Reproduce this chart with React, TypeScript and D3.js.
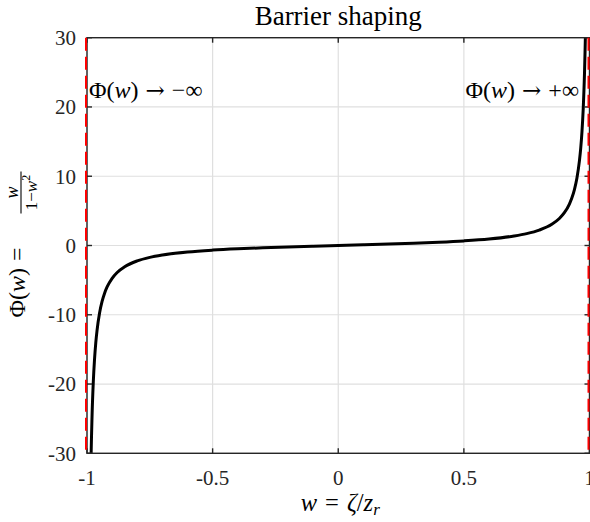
import React from "react";
import * as d3 from "d3";

// Sampled barrier shaping function Φ(w) = w / (1 − w²)
const wValues = [
  -0.99, -0.985, -0.98, -0.975, -0.97, -0.965, -0.96, -0.95, -0.94, -0.93, -0.92, -0.9, -0.88,
  -0.85, -0.8, -0.75, -0.7, -0.6, -0.5, -0.4, -0.3, -0.2, -0.1, 0,
  0.1, 0.2, 0.3, 0.4, 0.5, 0.6, 0.7, 0.75, 0.8, 0.85, 0.88, 0.9, 0.92, 0.93, 0.94, 0.95,
  0.96, 0.965, 0.97, 0.975, 0.98, 0.985, 0.99,
];
const phiValues = [
  -49.749, -33.081, -24.747, -19.747, -16.413, -14.031, -12.245, -9.744, -8.076, -6.884, -5.99, -4.737, -3.901,
  -3.063, -2.222, -1.714, -1.373, -0.9375, -0.6667, -0.4762, -0.3297, -0.2083, -0.101, 0,
  0.101, 0.2083, 0.3297, 0.4762, 0.6667, 0.9375, 1.373, 1.714, 2.222, 3.063, 3.901, 4.737, 5.99, 6.884, 8.076, 9.744,
  12.245, 14.031, 16.413, 19.747, 24.747, 33.081, 49.749,
];

const xTicks = [-1, -0.5, 0, 0.5, 1];
const xTickLabels = ["-1", "-0.5", "0", "0.5", "1"];
const yTicks = [-30, -20, -10, 0, 10, 20, 30];
const yTickLabels = ["-30", "-20", "-10", "0", "10", "20", "30"];
const asymptotes = [-1, 1];

const W = 590;
const H = 522;
const left = 87;
const right = 589.5;
const top = 37.7;
const bottom = 453.3;

const FONT = "'Liberation Serif', 'Times New Roman', serif";
const ARROW_FONT = "'DejaVu Serif', serif";
const AXIS = "#262626";
const GRID = "#dfdfdf";

export default function App() {
  const x = d3.scaleLinear().domain([-1, 1]).range([left, right]);
  const y = d3.scaleLinear().domain([-30, 30]).range([bottom, top]);
  const pts: [number, number][] = wValues.map((w, i) => [w, phiValues[i]]);
  const line = d3
    .line<[number, number]>()
    .x((d) => x(d[0]))
    .y((d) => y(d[1]))
    .curve(d3.curveMonotoneX);
  const tickLen = 5;

  return (
    <svg
      width={W}
      height={H}
      style={{ position: "fixed", left: 0, top: 0, background: "#fff" }}
      fontFamily={FONT}
    >
      <defs>
        <clipPath id="plotClip">
          <rect x={left} y={top} width={right - left} height={bottom - top} />
        </clipPath>
      </defs>
      <rect x={0} y={0} width={W} height={H} fill="#fff" />

      {/* grid */}
      {xTicks.map((t) => (
        <line key={"gx" + t} x1={x(t)} x2={x(t)} y1={top} y2={bottom} stroke={GRID} strokeWidth={1.2} />
      ))}
      {yTicks.map((t) => (
        <line key={"gy" + t} x1={left} x2={right} y1={y(t)} y2={y(t)} stroke={GRID} strokeWidth={1.2} />
      ))}

      {/* curve */}
      <path
        d={line(pts) || ""}
        fill="none"
        stroke="#000"
        strokeWidth={3}
        clipPath="url(#plotClip)"
      />

      {/* axes box and ticks */}
      <rect x={left} y={top} width={right - left} height={bottom - top} fill="none" stroke={AXIS} strokeWidth={1.4} />
      {xTicks.map((t) => (
        <g key={"tx" + t}>
          <line x1={x(t)} x2={x(t)} y1={bottom} y2={bottom - tickLen} stroke={AXIS} strokeWidth={1.4} />
          <line x1={x(t)} x2={x(t)} y1={top} y2={top + tickLen} stroke={AXIS} strokeWidth={1.4} />
        </g>
      ))}
      {yTicks.map((t) => (
        <g key={"ty" + t}>
          <line x1={left} x2={left + tickLen} y1={y(t)} y2={y(t)} stroke={AXIS} strokeWidth={1.4} />
          <line x1={right} x2={right - tickLen} y1={y(t)} y2={y(t)} stroke={AXIS} strokeWidth={1.4} />
        </g>
      ))}

      {/* asymptotes */}
      {asymptotes.map((a) => (
        <line
          key={"as" + a}
          x1={x(a) - 1}
          x2={x(a) - 1}
          y1={top}
          y2={bottom}
          stroke="#ff0000"
          strokeWidth={2}
          strokeDasharray="13,6"
        />
      ))}

      {/* tick labels */}
      {xTicks.map((t, i) => (
        <text key={"lx" + t} x={x(t)} y={485} textAnchor="middle" fontSize={21} fill={AXIS}>
          {xTickLabels[i]}
        </text>
      ))}
      {yTicks.map((t, i) => (
        <text key={"ly" + t} x={76} y={y(t)} dy="0.35em" textAnchor="end" fontSize={21} fill={AXIS}>
          {yTickLabels[i]}
        </text>
      ))}

      {/* title */}
      <text x={x(0)} y={25} textAnchor="middle" fontSize={27} fill="#000">
        Barrier shaping
      </text>

      {/* annotations */}
      <text x={89} y={98} fontSize={24} fill="#000">
        Φ(<tspan fontStyle="italic">w</tspan>)
        <tspan dx={7} fontFamily={ARROW_FONT} fontSize={23}>→</tspan>
        <tspan dx={7}>−∞</tspan>
      </text>
      <text x={579} y={98} fontSize={24} fill="#000" textAnchor="end">
        Φ(<tspan fontStyle="italic">w</tspan>)
        <tspan dx={7} fontFamily={ARROW_FONT} fontSize={23}>→</tspan>
        <tspan dx={7}>+∞</tspan>
      </text>

      {/* x label */}
      <text x={x(0) + 2} y={511} fontSize={24.5} textAnchor="middle" fill="#000">
        <tspan fontStyle="italic">w</tspan>
        <tspan dx={8}>=</tspan>
        <tspan dx={8} fontStyle="italic">ζ</tspan>/<tspan fontStyle="italic">z</tspan>
        <tspan fontStyle="italic" fontSize={17} dy={4}>r</tspan>
      </text>

      {/* y label */}
      <g transform="translate(25,244.5) rotate(-90)" fill="#000">
        <text x={-73} y={0} fontSize={24}>
          Φ(<tspan fontStyle="italic">w</tspan>)<tspan dx={7}>=</tspan>
        </text>
        <text x={52} y={-7} fontSize={18} textAnchor="middle" fontStyle="italic">
          w
        </text>
        <line x1={31} x2={73} y1={-4} y2={-4} stroke="#000" strokeWidth={1.1} />
        <text x={52} y={12} fontSize={17} textAnchor="middle">
          1−<tspan fontStyle="italic">w</tspan>
          <tspan fontSize={12} dy={-7}>2</tspan>
        </text>
      </g>
    </svg>
  );
}
